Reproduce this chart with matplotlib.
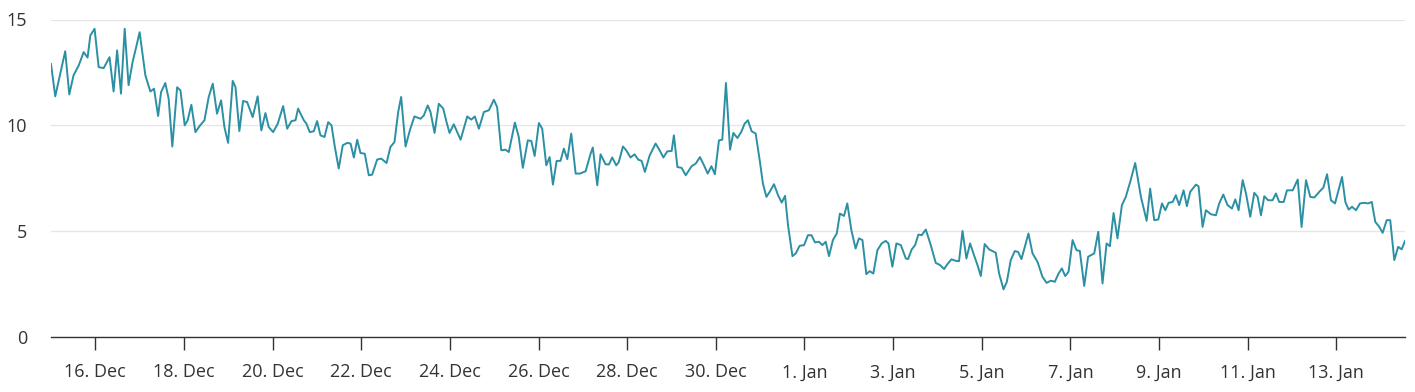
import datetime as dt
import matplotlib
matplotlib.use("Agg")
import matplotlib.pyplot as plt

plt.rcParams["font.family"] = ["Open Sans", "DejaVu Sans"]

START = dt.datetime(2023, 12, 15)

# hours since 15 Dec 00:00, value
hours = [
    0, 2.3, 7.7, 9.9, 12.2, 15.0, 17.7, 19.8, 21.3, 23.6, 25.8, 28.5, 31.7, 33.9, 35.8, 37.9,
    39.9, 42.0, 44.2, 45.7, 48.0, 51.1, 53.8, 55.8, 58.0, 59.6, 61.9, 63.7, 65.7, 68.3, 70.1, 72.4,
    74.0, 76.0, 78.2, 80.5, 83.1, 85.4, 87.6, 89.9, 92.1, 93.9, 95.9, 98.4, 99.9, 102.0, 104.0, 106.2,
    109.2, 111.9, 113.9, 116.1, 117.9, 120.3, 122.8, 125.7, 127.9, 130.2, 132.4, 133.8, 136.9, 138.3,
    140.1, 142.3, 144.1,
    145.9, 148.1, 150.1, 151.9, 153.7, 155.8, 158.0, 160.4, 162.2, 164.0, 165.8, 167.6, 169.9, 172.1,
    173.9, 176.6, 178.8, 181.7, 183.8, 186.0, 188.0, 189.6, 192.0, 194.3, 196.8, 200.1, 201.9, 204.0,
    205.5, 207.7, 210.0, 212.4, 214.2, 215.8,
    218.1, 221.8, 225.4, 227.6, 229.5, 231.7, 234.4, 237.1, 239.8, 241.6, 243.8, 246.1, 247.9, 251.2,
    253.3, 255.5, 258.2, 260.1, 261.9, 264.2, 266.0, 268.2, 270.0, 271.8, 273.8, 275.9, 277.7, 279.6,
    281.7, 284.1, 286.4, 289.5, 292.2,
    293.4, 295.8, 297.6, 300.3, 302.1, 303.9, 306.1, 307.5, 309.7, 311.5, 313.8, 316.0, 318.0, 319.8,
    321.6, 324.2, 327.4, 329.6, 331.6, 333.7, 336.1, 337.3, 339.2, 341.5, 343.7, 346.9, 349.1, 351.4,
    353.6, 355.6, 357.6, 359.5, 361.7, 363.5,
    365.5, 367.7, 369.5, 371.7, 373.8, 375.6, 377.4, 379.4, 381.6, 383.9, 385.5, 387.4, 389.2, 391.5,
    393.7, 395.7, 397.5, 399.1, 401.5, 403.3, 405.4, 407.8, 409.9, 411.8, 413.7, 415.9, 417.7, 419.5,
    421.3, 423.4, 425.5, 427.2, 429.4, 431.2, 433.4, 435.7,
    437.5, 439.4, 441.5, 443.3, 445.3, 447.5, 449.8, 452.0, 453.5, 455.6, 457.8, 460.2, 462.9, 464.1,
    466.1, 467.9, 469.7, 471.5, 473.7, 476.4, 479.1, 481.4, 483.6, 485.4, 487.6, 489.9, 491.7, 493.6,
    495.7, 497.7, 499.8, 501.7, 503.5, 505.6, 508.0, 511.6,
    513.4, 515.8, 517.6, 519.7, 521.9, 523.7, 525.5, 527.3, 529.3, 531.5, 534.2, 536.9, 539.1, 541.4,
    543.6, 545.6, 547.4, 549.2, 551.0, 553.2, 555.3, 557.1, 559.5, 561.6, 564.9, 567.1, 569.4, 571.6,
    573.4, 575.4, 577.5, 579.9, 582.0, 584.4,
    587.1, 590.2, 593.3, 595.2, 597.4, 599.6, 601.6, 603.4, 605.2, 607.4, 609.1, 610.9, 613.3, 615.1,
    616.9, 620.0, 621.4, 623.6, 625.4, 628.1, 630.8, 632.6, 634.8, 637.1, 639.5, 641.3, 643.1, 645.3,
    647.1, 649.4, 651.6, 653.4, 655.2,
    657.0, 659.1, 661.5, 663.3, 665.1, 667.5, 669.3, 672.4, 675.1, 677.2, 679.6, 681.9, 684.1, 686.8,
    689.0, 691.0, 693.1, 695.3, 699.1, 700.9, 702.7, 704.5, 706.7, 708.8, 711.2, 713.3, 715.2, 717.1,
    719.3, 721.1, 723.3, 725.2, 727.4, 729.5, 731.4, 733.2,
]
values = [
    12.9, 11.37, 13.5, 11.46, 12.36, 12.83, 13.46, 13.2, 14.25, 14.56, 12.75, 12.7, 13.22, 11.6, 13.54, 11.5,
    14.56, 11.9, 13.0, 13.54, 14.4, 12.36, 11.6, 11.73, 10.44, 11.57, 12.0, 11.26, 9.0, 11.8, 11.65, 10.0,
    10.24, 10.97, 9.68, 9.97, 10.24, 11.34, 11.97, 10.55, 11.18, 9.92, 9.17, 12.1, 11.8, 9.73, 11.15, 11.1,
    10.39, 11.37, 9.76, 10.58, 9.92, 9.68, 10.08, 10.91, 9.84, 10.2, 10.24, 10.79, 10.24, 10.08,
    9.68, 9.72, 10.2,
    9.53, 9.45, 10.15, 10.0, 8.98, 7.96, 9.06, 9.17, 9.14, 8.48, 9.32, 8.69, 8.66, 7.64,
    7.67, 8.38, 8.43, 8.22, 8.98, 9.21, 10.63, 11.34, 9.0, 9.76, 10.42, 10.31, 10.47, 10.94,
    10.63, 9.64, 11.02, 10.79, 10.15, 9.64,
    10.05, 9.32, 10.42, 10.27, 10.42, 9.84, 10.63, 10.71, 11.21, 10.86, 8.82, 8.85, 8.74, 10.13,
    9.45, 7.99, 9.29, 9.26, 8.55, 10.11, 9.84, 8.11, 8.5, 7.2, 8.32, 8.32, 8.9, 8.4,
    9.61, 7.72, 7.72, 7.83, 8.66,
    8.95, 7.17, 8.63, 8.16, 8.15, 8.48, 8.11, 8.27, 9.0, 8.82, 8.48, 8.63, 8.38, 8.32,
    7.8, 8.58, 9.14, 8.82, 8.48, 8.77, 8.79, 9.53, 8.03, 7.99, 7.64, 8.07, 8.19, 8.5,
    8.11, 7.72, 8.07, 7.69, 9.29, 9.32,
    12.0, 8.85, 9.64, 9.4, 9.69, 10.08, 10.24, 9.72, 9.61, 8.27, 7.25, 6.62, 6.86, 7.22,
    6.7, 6.35, 6.67, 5.28, 3.82, 3.95, 4.31, 4.34, 4.81, 4.81, 4.47, 4.5, 4.34, 4.5,
    3.82, 4.58, 4.89, 5.83, 5.72, 6.31, 5.05, 4.18,
    4.66, 4.58, 2.97, 3.11, 3.0, 4.1, 4.42, 4.54, 4.42, 3.32, 4.42, 4.34, 3.71, 3.68,
    4.14, 4.34, 4.84, 4.81, 5.08, 4.34, 3.5, 3.4, 3.21, 3.44, 3.67, 3.6, 3.58, 5.01,
    3.71, 4.42, 3.87, 3.4, 2.88, 4.39, 4.14, 3.98,
    3.0, 2.25, 2.61, 3.63, 4.06, 4.02, 3.68, 4.26, 4.89, 3.95, 3.55, 2.84, 2.56, 2.66,
    2.61, 3.0, 3.24, 2.88, 3.08, 4.58, 4.1, 4.07, 2.41, 3.79, 3.95, 4.97, 2.53, 4.42,
    4.29, 5.86, 4.66, 6.23, 6.62, 7.33,
    8.22, 6.62, 5.49, 7.01, 5.52, 5.55, 6.31, 5.99, 6.34, 6.38, 6.7, 6.23, 6.93, 6.18,
    6.86, 7.2, 7.12, 5.2, 5.99, 5.8, 5.75, 6.31, 6.73, 6.23, 6.07, 6.5, 5.99, 7.41,
    6.78, 5.68, 6.81, 6.62, 5.75,
    6.65, 6.46, 6.46, 6.78, 6.38, 6.38, 6.93, 6.93, 7.44, 5.2, 7.41, 6.62, 6.59, 6.86,
    7.06, 7.69, 6.46, 6.31, 7.56, 6.38, 6.02, 6.15, 5.99, 6.31, 6.34, 6.31, 6.38, 5.44,
    5.2, 4.92, 5.52, 5.52, 3.63, 4.26, 4.14, 4.54,
]

tick_days = list(range(1, 30, 2))  # 16 Dec .. 13 Jan, every 2 days
tick_hours = [d * 24 for d in tick_days]
tick_labels = []
for h in tick_hours:
    d = START + dt.timedelta(hours=h)
    tick_labels.append(f"{d.day}. {d.strftime('%b')}")

fig = plt.figure(figsize=(14.15, 3.92), dpi=100)
ax = fig.add_axes([51 / 1415, 1 - 337 / 392, (1405 - 51) / 1415, (337 - 19.5) / 392])

ax.plot(hours, values, color="#2b90a3", lw=1.4, solid_joinstyle="round", zorder=3)

ax.set_xlim(0, hours[-1])
ax.set_ylim(0, 15)
ax.set_yticks([0, 5, 10, 15])
ax.yaxis.grid(True, color="#e6e6e6", lw=1)
ax.set_axisbelow(True)
ax.set_xticks(tick_hours)
ax.set_xticklabels(tick_labels)
for lab in ax.get_yticklabels():
    lab.set_verticalalignment("center_baseline")

for s in ["top", "right", "left"]:
    ax.spines[s].set_visible(False)
ax.spines["bottom"].set_color("#333333")
ax.spines["bottom"].set_linewidth(1)
ax.spines["bottom"].set_zorder(4)

ax.tick_params(axis="y", length=0, pad=17, labelsize=13, labelcolor="#333333")
ax.tick_params(axis="x", length=9, width=1, color="#333333", pad=10,
               labelsize=13, labelcolor="#333333")

fig.savefig("out.png", dpi=100)
